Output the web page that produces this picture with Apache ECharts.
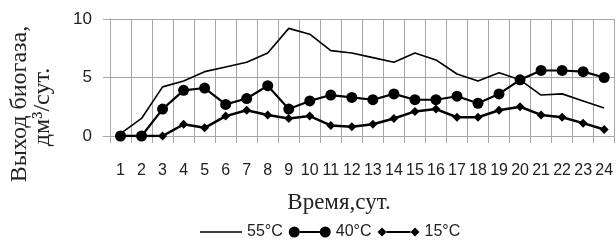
<!DOCTYPE html>
<html>
<head>
<meta charset="utf-8">
<script src="https://cdn.jsdelivr.net/npm/echarts@6/dist/echarts.min.js"></script>
<style>
  html, body { margin: 0; padding: 0; background: #fff; }
  #chart { width: 616px; height: 241px; }
</style>
</head>
<body>
<div id="chart"></div>
<script>
// дни (ось X)
const days = ['1','2','3','4','5','6','7','8','9','10','11','12','13','14','15','16','17','18','19','20','21','22','23','24'];
// выход биогаза, дм3/сут.
const t55 = [0.2, 1.5, 4.2, 4.7, 5.5, 5.9, 6.3, 7.1, 9.2, 8.7, 7.3, 7.1, 6.7, 6.3, 7.1, 6.5, 5.3, 4.7, 5.4, 4.8, 3.5, 3.6, 3.0, 2.4];
const t40 = [0, 0, 2.3, 3.9, 4.1, 2.7, 3.2, 4.3, 2.3, 3.0, 3.5, 3.3, 3.1, 3.6, 3.1, 3.1, 3.4, 2.8, 3.6, 4.8, 5.6, 5.6, 5.5, 5.0];
const t15 = [0, 0, 0, 1.0, 0.7, 1.7, 2.2, 1.8, 1.5, 1.7, 0.9, 0.8, 1.0, 1.5, 2.1, 2.3, 1.6, 1.6, 2.2, 2.5, 1.8, 1.6, 1.1, 0.55];
const seriesNames = ['55°C', '40°C', '15°C'];
const yTicks = [0, 5, 10];

const gridColor = '#a6a6a6';
const textColor = '#222';
const sans = '"Liberation Sans", Arial, sans-serif';
const serif = '"Liberation Serif", "Times New Roman", serif';

const iconLine = 'path://M0,5 L42,5 L42,6.5 L0,6.5 Z';
const iconCircle = 'path://M0,5.5 A5.5,5.5 0 1 1 11,5.5 A5.5,5.5 0 1 1 0,5.5 Z M31,5.5 A5.5,5.5 0 1 1 42,5.5 A5.5,5.5 0 1 1 31,5.5 Z M11,4.5 L31,4.5 L31,6.5 L11,6.5 Z';
const iconDiamond = 'path://M0,5.5 L4.5,1 L9,5.5 L4.5,10 Z M33,5.5 L37.5,1 L42,5.5 L37.5,10 Z M9,4.5 L33,4.5 L33,6.5 L9,6.5 Z';

const chart = echarts.init(document.getElementById('chart'), null, { renderer: 'canvas' });

const option = {
  animation: false,
  backgroundColor: '#fff',
  grid: { left: 110, top: 19, width: 508, height: 117 },
  legend: {
    top: 224,
    left: 200,
    padding: 0,
    itemWidth: 42,
    itemHeight: 11,
    itemGap: 6,
    textStyle: { fontFamily: sans, fontSize: 16, color: textColor },
    data: [
      { name: seriesNames[0], icon: iconLine },
      { name: seriesNames[1], icon: iconCircle },
      { name: seriesNames[2], icon: iconDiamond }
    ]
  },
  xAxis: {
    type: 'category',
    data: days,
    boundaryGap: true,
    axisLine: { show: true, lineStyle: { color: gridColor, width: 1 } },
    axisTick: { show: true, length: 7, lineStyle: { color: gridColor } },
    axisLabel: { interval: 0, margin: 27, fontFamily: sans, fontSize: 16, color: textColor },
    splitLine: { show: true, lineStyle: { color: gridColor, width: 1 } }
  },
  yAxis: {
    type: 'value',
    min: yTicks[0],
    max: yTicks[yTicks.length - 1],
    interval: 5,
    axisLine: { show: true, lineStyle: { color: gridColor, width: 1 } },
    axisTick: { show: true, length: 7, lineStyle: { color: gridColor } },
    axisLabel: { margin: 18, fontFamily: sans, fontSize: 17, color: textColor },
    splitLine: { show: true, lineStyle: { color: gridColor, width: 1 } }
  },
  graphic: [
    {
      type: 'text', x: 20, y: 104, rotation: Math.PI / 2,
      style: { text: 'Выход биогаза,', align: 'center', verticalAlign: 'middle',
               font: '24px ' + serif, fill: textColor }
    },
    {
      type: 'text', x: 43, y: 107, rotation: Math.PI / 2,
      style: { text: 'дм³/сут.', align: 'center', verticalAlign: 'middle',
               font: '24px ' + serif, fill: textColor }
    },
    {
      type: 'text', x: 339, y: 203,
      style: { text: 'Время,сут.', align: 'center', verticalAlign: 'middle',
               font: '23px ' + serif, fill: textColor }
    }
  ],
  series: [
    {
      name: seriesNames[0], type: 'line', data: t55,
      symbol: 'none',
      lineStyle: { color: '#000', width: 1.6 },
      itemStyle: { color: '#000' }
    },
    {
      name: seriesNames[1], type: 'line', data: t40,
      symbol: 'circle', symbolSize: 11,
      lineStyle: { color: '#000', width: 2.2 },
      itemStyle: { color: '#000' }
    },
    {
      name: seriesNames[2], type: 'line', data: t15,
      symbol: 'diamond', symbolSize: 9,
      lineStyle: { color: '#000', width: 2.5 },
      itemStyle: { color: '#000' }
    }
  ]
};

chart.setOption(option);
</script>
</body>
</html>
